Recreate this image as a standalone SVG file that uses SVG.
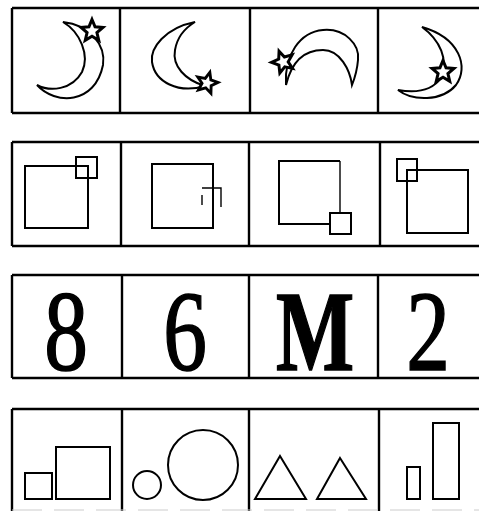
<svg xmlns="http://www.w3.org/2000/svg" xmlns:xlink="http://www.w3.org/1999/xlink" width="479" height="511" viewBox="0 0 479 511">
<style>
.box{fill:none;stroke:#000;stroke-width:2.4}
.sh{fill:none;stroke:#000;stroke-width:2}
.thin{fill:none;stroke:#000;stroke-width:1.4}
.moon{fill:#fff;stroke:#000;stroke-width:2}
.star{fill:#fff;stroke:#000;stroke-width:2.6;stroke-linejoin:miter}
.num{font-family:"Liberation Serif","Times New Roman",serif;font-size:115px;fill:#000;stroke:#000;stroke-width:1.6;text-anchor:middle}
</style>
<defs>
<polygon id="star" points="0,-10 2.65,-3.64 9.51,-3.09 4.28,1.39 5.88,8.09 0,4.5 -5.88,8.09 -4.28,1.39 -9.51,-3.09 -2.65,-3.64"/>
</defs>
<rect width="479" height="511" fill="#fff"/>
<g id="frames">
<path class="box" d="M12,8 H481 M12,113 H481 M12,8 V113 M120,8 V113 M250,8 V113 M378,8 V113"/>
<path class="box" d="M12,142 H481 M12,246 H481 M12,142 V246 M121,142 V246 M249,142 V246 M380,142 V246"/>
<path class="box" d="M12,275 H481 M12,378 H481 M12,275 V378 M122,275 V378 M249,275 V378 M378,275 V378"/>
<path class="box" d="M12,409 H481 M12,409 V511 M122,409 V511 M249,409 V511 M379,409 V511"/>
<path d="M12,510 H481" fill="none" stroke="#ccc" stroke-width="1" stroke-dasharray="30,12"/>
</g>
<g id="r1c1">
<path class="moon" d="M37,85 C55,105 95,105 103,65 C106,45 90,25 63,22 C80,32 90,55 82,72 C72,90 50,92 37,85 Z"/>
<use xlink:href="#star" class="star" transform="translate(92,31) scale(1.15)"/>
</g>
<g id="r1c2">
<path class="moon" d="M195,22 C165,28 150,48 152,62 C155,82 178,94 205,86 C185,80 172,66 175,50 C177,38 185,28 195,22 Z"/>
<use xlink:href="#star" class="star" transform="translate(207,83) rotate(15) scale(1.1)"/>
</g>
<g id="r1c3">
<path class="moon" d="M286,85 C284,55 300,32 323,30 C345,28 360,45 358,60 C357,72 354,80 352,85 C350,70 340,50 323,50 C305,50 292,60 286,85 Z"/>
<use xlink:href="#star" class="star" transform="translate(283,62) rotate(-20) scale(1.15)"/>
</g>
<g id="r1c4">
<path class="moon" d="M398,90 C412,101 442,102 456,85 C469,67 460,38 422,27 C440,40 449,60 441,78 C431,92 415,93 398,90 Z"/>
<use xlink:href="#star" class="star" transform="translate(443,72) scale(1.15)"/>
</g>
<g id="r2c1">
<rect class="sh" x="25" y="166" width="63" height="62"/>
<rect class="sh" x="76" y="157" width="21" height="21" stroke-width="2.6"/>
</g>
<g id="r2c2">
<rect class="sh" x="152" y="164" width="61" height="64"/>
<path class="thin" d="M202,195 V205 M202,188 H221 V207"/>
</g>
<g id="r2c3">
<path class="sh" d="M340,161 H279 V224 H330"/>
<path class="thin" d="M340,161 V213"/>
<rect class="sh" x="330" y="213" width="21" height="21"/>
</g>
<g id="r2c4">
<rect class="sh" x="407" y="170" width="61" height="63"/>
<rect class="sh" x="397" y="159" width="20" height="22" stroke-width="2.4"/>
</g>
<g id="r3c1"><text class="num" transform="translate(66,370) scale(0.76,1)">8</text></g>
<g id="r3c2"><text class="num" transform="translate(185,370) scale(0.76,1)">6</text></g>
<g id="r3c3"><text class="num" font-weight="bold" stroke-width="0.5" transform="translate(315,370) scale(0.72,1)">M</text></g>
<g id="r3c4"><text class="num" transform="translate(428,370) scale(0.76,1)">2</text></g>
<g id="r4c1">
<rect class="sh" x="25" y="473" width="27" height="26"/>
<rect class="sh" x="56" y="447" width="54" height="52"/>
</g>
<g id="r4c2">
<circle class="sh" cx="147" cy="485" r="14"/>
<circle class="sh" cx="203" cy="465" r="35"/>
</g>
<g id="r4c3">
<polygon class="sh" points="280,456 306,499 255,499"/>
<polygon class="sh" points="340,458 366,499 317,499"/>
</g>
<g id="r4c4">
<rect class="sh" x="407" y="467" width="13" height="32"/>
<rect class="sh" x="433" y="423" width="26" height="76"/>
</g>
</svg>
